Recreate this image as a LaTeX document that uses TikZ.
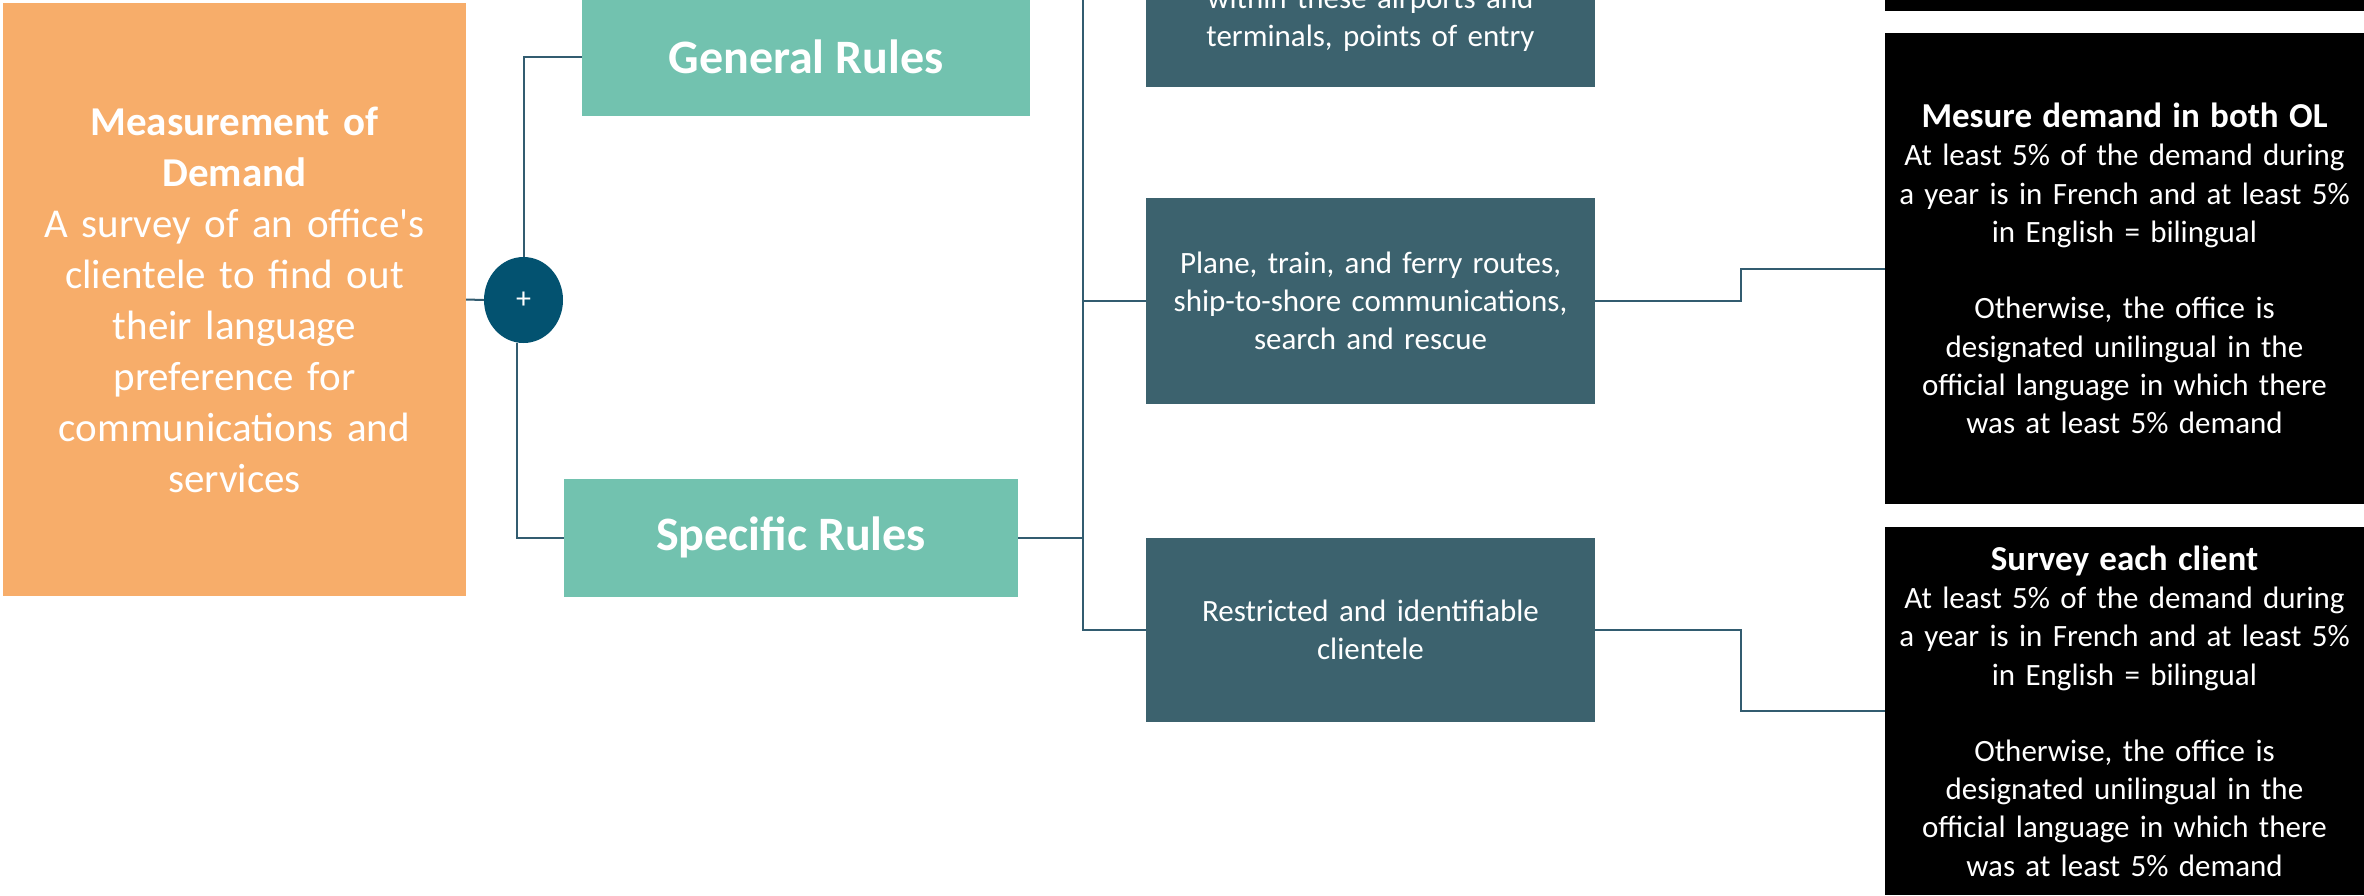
\documentclass[tikz,border=0pt]{standalone}
\usepackage{fontspec}
\setmainfont{Carlito}
\usepackage{tikz}
\usetikzlibrary{positioning,shapes.geometric}
\definecolor{demandorange}{RGB}{247,173,106}
\definecolor{ruleteal}{RGB}{114,194,175}
\definecolor{caseslate}{RGB}{60,98,110}
\definecolor{plusblue}{RGB}{3,82,112}
\definecolor{wireblue}{RGB}{50,92,112}
\tikzset{
  demandbox/.style={fill=demandorange, text=white, minimum width=463pt, minimum height=593pt, text width=440pt, align=center, inner sep=0pt, font=\fontsize{41}{51}\selectfont},
  rulebox/.style={fill=ruleteal, text=white, minimum height=118pt, inner sep=0pt, font=\bfseries\fontsize{48}{56}\selectfont},
  casebox/.style={fill=caseslate, text=white, minimum width=449pt, text width=430pt, align=center, inner sep=0pt, font=\fontsize{31}{38.3}\selectfont},
  notebox/.style={fill=black, text=white, minimum width=479pt, text width=460pt, align=center, inner sep=0pt, font=\fontsize{31}{38.3}\selectfont},
  wire/.style={draw=wireblue, line width=2pt},
}
\newcommand{\notetitle}[1]{{\bfseries\fontsize{35}{40}\selectfont #1}}

\begin{document}
\begin{tikzpicture}[x=1pt,y=-1pt]
\useasboundingbox[fill=white] (0,0) rectangle (2364,895);
\clip (0,0) rectangle (2364,895);
\node[demandbox] (demand) at (234.5,299.5) {{\bfseries Measurement of\\Demand}\\A survey of an office\textquotesingle s\\clientele to find out\\their language\\preference for\\communications and\\services};
\node[ellipse, fill=plusblue, text=white, minimum width=79pt, minimum height=86pt, inner sep=0pt, font=\fontsize{30}{34}\selectfont] (plus) at (523.5,300) {+};
\node[rulebox, minimum width=448pt] (general) at (806,57) {General Rules};
\node[rulebox, minimum width=454pt] (specific) at (791,537.5) {Specific Rules};
\node[casebox, minimum height=136pt] (airports) at (1370.5,19) {within these airports and\\terminals, points of entry};
\node[casebox, minimum height=206pt] (transport) at (1370.5,301) {Plane, train, and ferry routes,\\ship-to-shore communications,\\search and rescue};
\node[casebox, minimum height=184pt] (clientele) at (1370.5,630) {Restricted and identifiable\\clientele};
\node[notebox, minimum height=222pt] (topnote) at (2124.5,-100) {};
\node[notebox, minimum height=471pt] (bothol) at (2124.5,268.5) {\notetitle{Mesure demand in both OL}\\At least 5\% of the demand during\\a year is in French and at least 5\%\\in English = bilingual\\[38pt]Otherwise, the office is\\designated unilingual in the\\official language in which there\\was at least 5\% demand};
\node[notebox, minimum height=368pt] (eachclient) at (2124.5,711) {\notetitle{Survey each client}\\At least 5\% of the demand during\\a year is in French and at least 5\%\\in English = bilingual\\[38pt]Otherwise, the office is\\designated unilingual in the\\official language in which there\\was at least 5\% demand};
\coordinate[right=65pt of specific] (hub);
\coordinate[right=146pt of transport] (bendA);
\coordinate[right=146pt of clientele] (bendB);
\draw[wire] (demand.east) -- (plus.west);
\draw[wire] (plus.north) |- (general.west);
\draw[wire] ([xshift=-7pt]plus.south) |- (specific.west);
\draw[wire] (specific.east) -- (hub);
\draw[wire] (hub) |- ([yshift=40pt]airports.west);
\draw[wire] (hub) |- (transport.west);
\draw[wire] (hub) |- (clientele.west);
\draw[wire] (transport.east) -- (bendA) |- (bothol.west);
\draw[wire] (clientele.east) -- (bendB) |- (eachclient.west);
\end{tikzpicture}
\end{document}
